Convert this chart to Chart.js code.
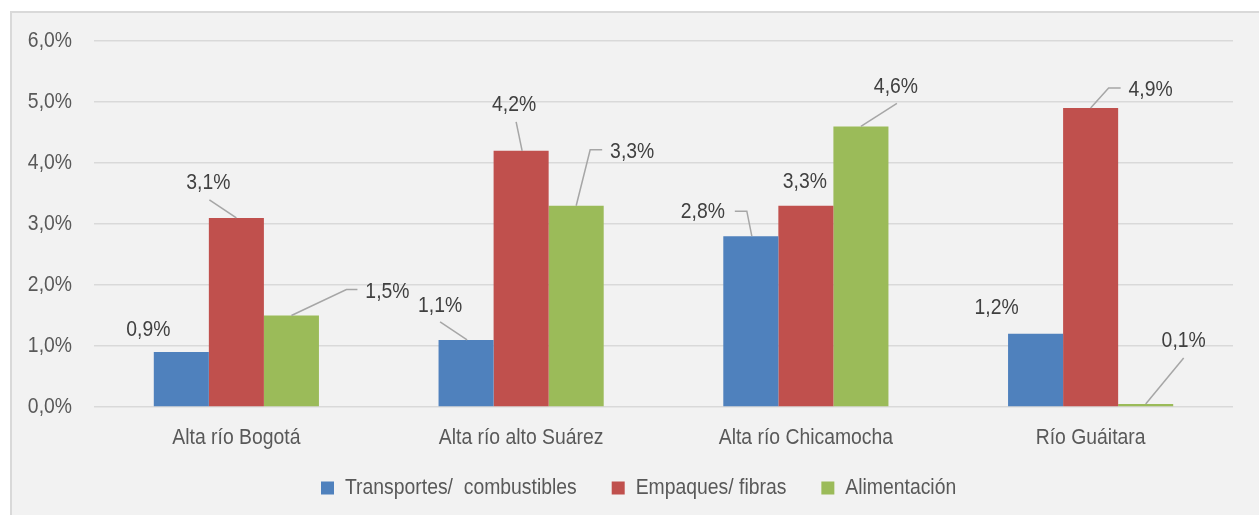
<!DOCTYPE html>
<html>
<head>
<meta charset="utf-8">
<script src="https://cdn.jsdelivr.net/npm/chart.js@4.4.1/dist/chart.umd.min.js"></script>
<style>
  html, body { margin: 0; padding: 0; background: #ffffff; }
  #wrap { position: relative; width: 1259px; height: 515px; }
  canvas { display: block; }
</style>
</head>
<body>
<div id="wrap"><canvas id="c" width="1259" height="515"></canvas></div>
<script>
const categories = ['Alta río Bogotá', 'Alta río alto Suárez', 'Alta río Chicamocha', 'Río Guáitara'];
const seriesNames = ['Transportes/  combustibles', 'Empaques/ fibras', 'Alimentación'];
const transportes = [0.9, 1.1, 2.8, 1.2];
const empaques = [3.1, 4.2, 3.3, 4.9];
const alimentacion = [1.5, 3.3, 4.6, 0.05];
const yTicks = [0, 1, 2, 3, 4, 5, 6];

const FONT = "'Liberation Sans', Arial, sans-serif";
const NARROW = 0.88; // horizontal condensing to imitate a narrow typeface

// label placement offsets (relative to bar top) and leader polylines, per dataset/category
const labelLayout = [
  [ {dx:-33, dy:-22, line:null},
    {dx:-26, dy:-34, line:[[1,0],[-26,-18]]},
    {dx:-48, dy:-24, line:[[1,0],[-4,-25],[-16,-25]]},
    {dx:-39, dy:-26, line:null} ],
  [ {dx:-28, dy:-35, line:[[0,0],[-27,-18]]},
    {dx:-7, dy:-46, line:[[1,0],[-5,-29]]},
    {dx:-1, dy:-24, line:null},
    {dx:60, dy:-18, line:[[0,0],[18,-20],[30,-20]]} ],
  [ {dx:96, dy:-24, line:[[0,0],[55,-26],[66,-26]]},
    {dx:56, dy:-54, line:[[0,0],[14,-56],[26,-56]]},
    {dx:35, dy:-39, line:[[0,0],[36,-23]]},
    {dx:38, dy:-63, line:[[0,0],[38,-46]]} ]
];

function fmt(v) { return v.toFixed(1).replace('.', ',') + '%'; }

const canvas = document.getElementById('c');
const ctx2d = canvas.getContext('2d');
(function condense(ctx) {
  const origFill = ctx.fillText.bind(ctx);
  const origMeasure = ctx.measureText.bind(ctx);
  ctx.fillText = function (text, x, y, maxWidth) {
    ctx.save();
    ctx.translate(x, y);
    ctx.scale(NARROW, 1);
    if (maxWidth !== undefined) origFill(text, 0, 0, maxWidth / NARROW);
    else origFill(text, 0, 0);
    ctx.restore();
  };
  ctx.measureText = function (text) {
    const m = origMeasure(text);
    return {
      width: m.width * NARROW,
      actualBoundingBoxLeft: m.actualBoundingBoxLeft * NARROW,
      actualBoundingBoxRight: m.actualBoundingBoxRight * NARROW,
      actualBoundingBoxAscent: m.actualBoundingBoxAscent,
      actualBoundingBoxDescent: m.actualBoundingBoxDescent,
      fontBoundingBoxAscent: m.fontBoundingBoxAscent,
      fontBoundingBoxDescent: m.fontBoundingBoxDescent
    };
  };
})(ctx2d);

const bgPlugin = {
  id: 'bg',
  beforeDraw(chart) {
    const ctx = chart.ctx;
    ctx.save();
    ctx.fillStyle = '#ffffff';
    ctx.fillRect(0, 0, chart.width, chart.height);
    ctx.fillStyle = '#f2f2f2';
    ctx.fillRect(10, 11, chart.width - 10, chart.height - 11);
    ctx.strokeStyle = '#d9d9d9';
    ctx.lineWidth = 2;
    ctx.beginPath();
    ctx.moveTo(11, chart.height);
    ctx.lineTo(11, 12);
    ctx.lineTo(chart.width, 12);
    ctx.stroke();
    ctx.restore();
  }
};

const labelPlugin = {
  id: 'labels',
  afterDatasetsDraw(chart) {
    const ctx = chart.ctx;
    ctx.save();
    chart.data.datasets.forEach((ds, i) => {
      const meta = chart.getDatasetMeta(i);
      meta.data.forEach((el, j) => {
        const L = labelLayout[i][j];
        const x0 = el.x, y0 = el.y;
        if (L.line) {
          ctx.strokeStyle = '#a6a6a6';
          ctx.lineWidth = 1.5;
          ctx.beginPath();
          L.line.forEach((p, k) => {
            if (k === 0) ctx.moveTo(x0 + p[0], y0 + p[1]);
            else ctx.lineTo(x0 + p[0], y0 + p[1]);
          });
          ctx.stroke();
        }
        ctx.fillStyle = '#404040';
        ctx.font = '22px ' + FONT;
        ctx.textAlign = 'center';
        ctx.textBaseline = 'middle';
        ctx.fillText(fmt(ds.data[j]), x0 + L.dx, y0 + L.dy);
      });
    });
    ctx.restore();
  }
};

const LEGEND_PAD = 35;
const legendPlace = {
  id: 'legendPlace',
  afterLayout(chart) {
    const lg = chart.legend;
    if (lg) { lg.left = 321 - LEGEND_PAD; }
    const sx = chart.scales.x;
    if (sx) { sx.bottom = sx.top + 60; sx.height = 60; }
  }
};

new Chart(ctx2d, {
  type: 'bar',
  data: {
    labels: categories,
    datasets: [
      { label: seriesNames[0], data: transportes, backgroundColor: '#4f81bd' },
      { label: seriesNames[1], data: empaques, backgroundColor: '#c0504d' },
      { label: seriesNames[2], data: alimentacion, backgroundColor: '#9bbb59' }
    ]
  },
  options: {
    responsive: false,
    animation: false,
    layout: { padding: { left: 0, right: 26, top: 41, bottom: 6 } },
    datasets: { bar: { categoryPercentage: 0.58, barPercentage: 1.0 } },
    scales: {
      x: {
        grid: { display: false, drawTicks: false },
        border: { display: false },
        ticks: { color: '#595959', font: { family: FONT, size: 22 }, padding: 18 },
        afterFit(s) { s.height = 35; }
      },
      y: {
        min: 0, max: 6,
        afterBuildTicks(s) { s.ticks = yTicks.map(v => ({ value: v })); },
        grid: { color: '#d9d9d9', lineWidth: 1.5, drawTicks: false },
        border: { display: false },
        ticks: { color: '#595959', font: { family: FONT, size: 22 }, padding: 22, callback: v => fmt(v) },
        afterFit(s) { s.width = 94; }
      }
    },
    plugins: {
      legend: {
        position: 'bottom',
        align: 'start',
        labels: { boxWidth: 13, boxHeight: 13, padding: LEGEND_PAD, color: '#595959', font: { family: FONT, size: 22 } }
      },
      tooltip: { enabled: false }
    }
  },
  plugins: [bgPlugin, labelPlugin, legendPlace]
});
</script>
</body>
</html>
